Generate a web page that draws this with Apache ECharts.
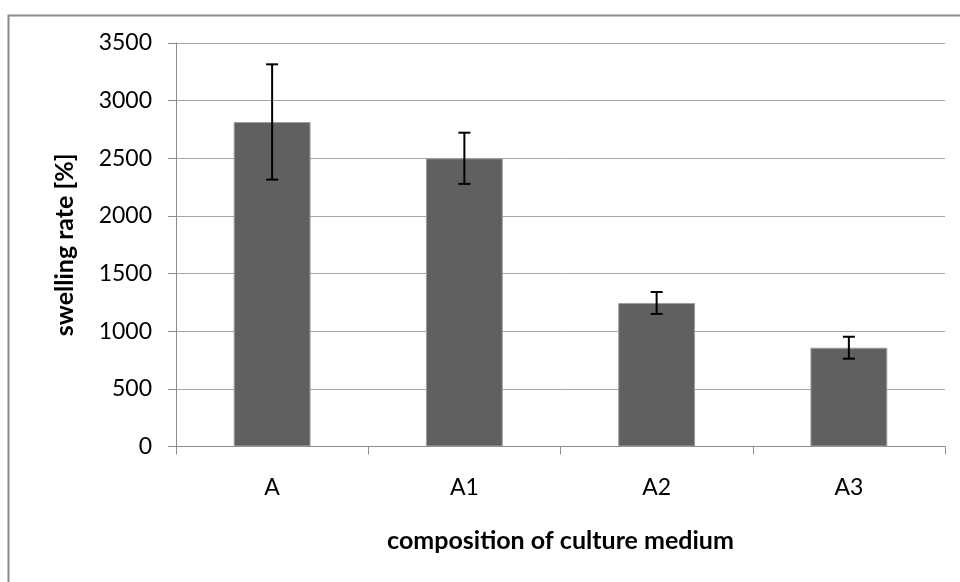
<!DOCTYPE html>
<html><head><meta charset="utf-8">
<script src="https://cdn.jsdelivr.net/npm/echarts@6/dist/echarts.min.js"></script>
<style>html,body{margin:0;padding:0;background:#fff}#c{width:960px;height:582px}</style>
</head><body><div id="c"></div>
<script>
const categories = ['A', 'A1', 'A2', 'A3'];
const values = [2815, 2500, 1245, 857];
const errors = [500, 222, 95, 95];
const yTicks = [0, 500, 1000, 1500, 2000, 2500, 3000, 3500];

const chart = echarts.init(document.getElementById('c'));
const font = 'Lato, "Open Sans", sans-serif';
const errData = categories.map((c, i) => [i, values[i] - errors[i], values[i] + errors[i]]);

chart.setOption({
  animation: false,
  backgroundColor: '#fff',
  graphic: [{
    type: 'rect', left: 6, top: 13, shape: { width: 1000, height: 1000 },
    style: { fill: 'none', stroke: '#8a8a8a', lineWidth: 2 }, silent: true, z: -1
  }],
  grid: { left: 176, right: 15, top: 43, bottom: 135.5 },
  xAxis: {
    type: 'category', data: categories,
    name: 'composition of culture medium', nameLocation: 'middle', nameGap: 82,
    nameTextStyle: { fontFamily: font, fontSize: 25, fontWeight: 'bold', color: '#000' },
    axisLine: { lineStyle: { color: '#8c8c8c', width: 1 } },
    axisTick: { show: true, alignWithLabel: false, length: 8, lineStyle: { color: '#8c8c8c' } },
    axisLabel: { fontFamily: font, fontSize: 23, color: '#000', margin: 30 }
  },
  yAxis: {
    type: 'value', min: yTicks[0], max: yTicks[yTicks.length - 1], interval: 500,
    name: 'swelling rate [%]', nameLocation: 'middle', nameGap: 99, nameRotate: 90,
    nameTextStyle: { fontFamily: font, fontSize: 25, fontWeight: 'bold', color: '#000' },
    axisLine: { show: true, lineStyle: { color: '#8c8c8c', width: 1 } },
    axisTick: { show: true, length: 8, lineStyle: { color: '#8c8c8c' } },
    axisLabel: { fontFamily: font, fontSize: 23, color: '#000', margin: 24,
      formatter: v => String(v) },
    splitLine: { lineStyle: { color: '#a6a6a6', width: 1 } }
  },
  series: [{
    type: 'bar', data: values, barWidth: '40%',
    itemStyle: { color: '#606060', borderColor: '#a0a0a0', borderWidth: 1 }
  }, {
    type: 'custom', data: errData, z: 10,
    renderItem: function (params, api) {
      const x = api.value(0);
      const lo = api.coord([x, api.value(1)]);
      const hi = api.coord([x, api.value(2)]);
      const hw = 6;
      const st = { stroke: '#000', lineWidth: 2 };
      return {
        type: 'group', children: [
          { type: 'line', shape: { x1: hi[0], y1: hi[1], x2: lo[0], y2: lo[1] }, style: st },
          { type: 'line', shape: { x1: hi[0] - hw, y1: hi[1], x2: hi[0] + hw, y2: hi[1] }, style: st },
          { type: 'line', shape: { x1: lo[0] - hw, y1: lo[1], x2: lo[0] + hw, y2: lo[1] }, style: st }
        ]
      };
    }
  }]
});
</script></body></html>
